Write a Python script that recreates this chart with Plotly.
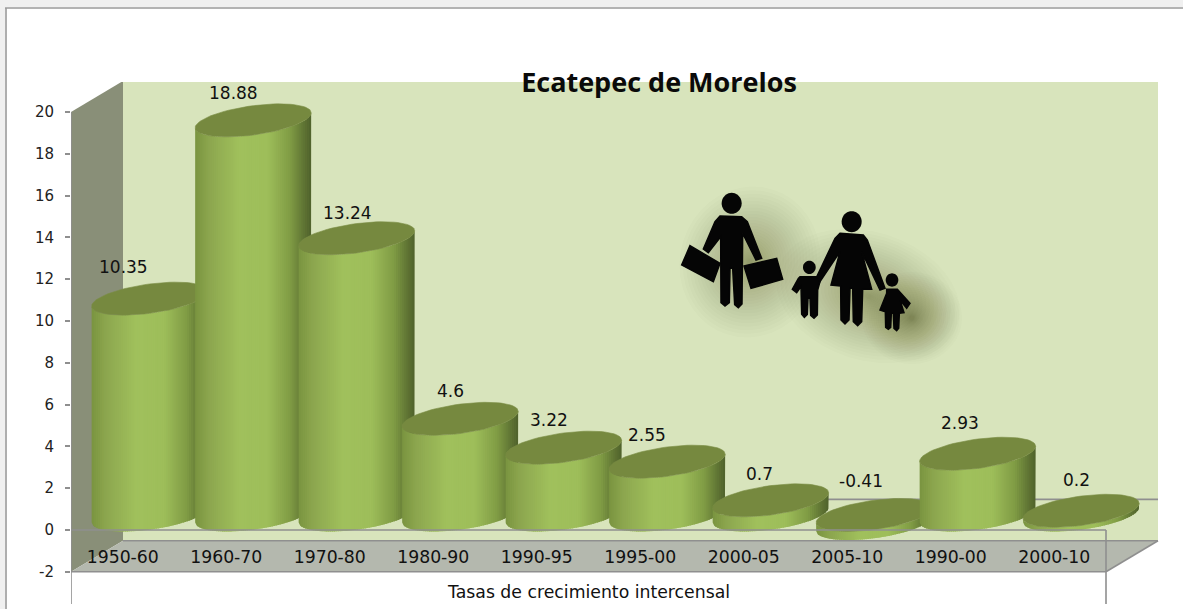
import math
import plotly.graph_objects as go

categories = ["1950-60", "1960-70", "1970-80", "1980-90", "1990-95",
              "1995-00", "2000-05", "2005-10", "1990-00", "2000-10"]
rates = [10.35, 18.88, 13.24, 4.6, 3.22, 2.55, 0.7, -0.41, 2.93, 0.2]
y_ticks = [-2, 0, 2, 4, 6, 8, 10, 12, 14, 16, 18, 20]

title_text = "Ecatepec de Morelos"
x_title = "Tasas de crecimiento intercensal"

W, H = 1183, 609
L, R, T, B = 71, 1160, 82, 604
UX, UY = 103.5, 20.9          # pixels per category / per unit
X0 = -0.5
Y_TOP = (530 - T) / UY
Y_BOT = (530 - B) / UY
X_END = X0 + (R - L) / UX

# depth projection of the 3D box and cylinders (data units)
DX = 52 / UX
DY = 31 / UY
A = 58 / UX
S = 7.5 / UY
BB = 14.7 / UY
CX = 0.26
CY = 0.72

label_dx = [-26, -20, -9, -10, -15, -20, -11, -13, -18, -5]
label_dy = [32, 27, 25, 28, 28, 27, 26, 34, 31, 31]

WALL, SIDE, FLOOR = "#d8e4bc", "#898f78", "#b4b8ae"
LINE = "#8f8f8f"
FACE = "#76893f"
STOPS = [(0.0, (122, 148, 64)), (0.12, (140, 166, 78)), (0.38, (160, 192, 92)),
         (0.62, (158, 190, 90)), (0.82, (128, 156, 68)), (0.95, (92, 112, 50)),
         (1.0, (80, 98, 44))]


def shade(f):
    for (f0, c0), (f1, c1) in zip(STOPS, STOPS[1:]):
        if f <= f1:
            k = (f - f0) / (f1 - f0)
            return "rgb(%d,%d,%d)" % tuple(round(a + (b - a) * k) for a, b in zip(c0, c1))
    return "rgb(80,98,44)"


def rim(cx, cy, th):
    return cx + A * math.cos(th), cy + S * math.cos(th) + BB * math.sin(th)


fig = go.Figure()
NSTRIP = 56
for i, v in enumerate(rates):
    cx = i + CX
    top = max(v, 0) + CY
    bot = min(v, 0) + CY
    for k in range(NSTRIP):
        # front half of the rim, left to right, with a small overlap
        x1 = -1 + 2 * k / NSTRIP
        x2 = min(1, -1 + 2 * (k + 1.6) / NSTRIP)
        th1 = -math.acos(x1) if x1 > -1 else -math.pi
        th2 = -math.acos(x2)
        ths = [th1 + (th2 - th1) * j / 3 for j in range(4)]
        xs, ys = [], []
        for th in ths:
            p = rim(cx, top, th)
            xs.append(p[0]); ys.append(p[1])
        for th in reversed(ths):
            p = rim(cx, bot, th)
            xs.append(p[0]); ys.append(p[1])
        fig.add_trace(go.Scatter(x=xs, y=ys, mode="lines", fill="toself",
                                 fillcolor=shade((k + 0.5) / NSTRIP),
                                 line=dict(width=0), hoverinfo="skip", showlegend=False))
    pts = [rim(cx, top, 2 * math.pi * j / 72) for j in range(73)]
    fig.add_trace(go.Scatter(x=[p[0] for p in pts], y=[p[1] for p in pts], mode="lines",
                             fill="toself", fillcolor=FACE, line=dict(width=0.6, color="#7a8d44"),
                             name=categories[i], hoverinfo="skip", showlegend=False))


def seg(x0, y0, x1, y1, layer):
    return dict(type="line", xref="x", yref="y", x0=x0, y0=y0, x1=x1, y1=y1, layer=layer,
                line=dict(color=LINE, width=1.6))


def poly(points, color, layer="below"):
    d = "M " + " L ".join(f"{x:.4f},{y:.4f}" for x, y in points) + " Z"
    return dict(type="path", xref="x", yref="y", path=d, fillcolor=color, layer=layer,
                line=dict(width=0))


XE = X0 + 10
shapes = [
    poly([(X0 + DX, -2 + DY), (XE + DX, -2 + DY), (XE + DX, 20 + DY), (X0 + DX, 20 + DY)], WALL),
    poly([(X0, -2), (X0 + DX, -2 + DY), (X0 + DX, 20 + DY), (X0, 20)], SIDE),
    poly([(X0, -2), (XE, -2), (XE + DX, -2 + DY), (X0 + DX, -2 + DY)], FLOOR),
    seg(X0 + DX, DY - 0.02, XE + DX, DY - 0.02, "below"),
    seg(X0 + DX, -2 + DY, XE + DX, -2 + DY, "below"),
    seg(X0, 20, X0, Y_BOT, "above"),
    seg(X0, 0, XE, 0, "above"),
    seg(X0, -2, XE, -2, "above"),
    seg(XE, 0, XE, Y_BOT, "above"),
    seg(XE, -2, XE + DX, -2 + DY, "below"),
]


# ---- decorative pictogram (pixel geometry converted to plot coordinates) ----
def to_data(px, py):
    return X0 + (px - L) / UX, (530 - py) / UY


def to_paper(px, py):
    return (px - L) / (R - L), (B - py) / (B - T)


def zoomed(zx, zy):
    return 670 + zx / 3, 180 + zy / 3


def path_shape(points, color, opacity=1.0, layer="above", edge=0):
    pp = [to_data(*p) for p in points]
    d = "M " + " L ".join(f"{x:.5f},{y:.5f}" for x, y in pp) + " Z"
    return dict(type="path", xref="x", yref="y", path=d, fillcolor=color,
                opacity=opacity, layer=layer, line=dict(width=edge, color=color))


def ellipse(cx, cy, rx, ry, ang=0.0, n=40):
    c, s = math.cos(ang), math.sin(ang)
    out = []
    for j in range(n):
        t = 2 * math.pi * j / n
        ex, ey = rx * math.cos(t), ry * math.sin(t)
        out.append((cx + ex * c - ey * s, cy + ex * s + ey * c))
    return out


shadow_blobs = [(750, 262, 68, 74, 0.3), (868, 296, 92, 62, 0.3), (912, 318, 48, 44, 0.0)]
NSHADOW = 30
for cx_, cy_, rx_, ry_, ang_ in shadow_blobs:
    for q in range(NSHADOW):
        f = (1.0 - q / NSHADOW) ** 1.5
        shapes.append(path_shape(ellipse(cx_, cy_, rx_ * f + 2, ry_ * f + 2, ang_),
                                 "#20281a", 0.016, "below"))

silhouettes = [
    # man
    [(150, 108), (215, 110), (232, 125), (275, 235), (258, 240), (218, 160), (217, 265), (216, 372),
     (205, 383), (194, 374), (188, 265), (180, 265), (178, 368), (165, 378), (153, 368), (152, 170),
     (115, 218), (100, 207), (135, 125)],
    [(60, 197), (150, 250), (130, 305), (35, 255)],
    [(222, 258), (320, 235), (338, 298), (243, 325)],
    # woman
    [(510, 160), (580, 165), (592, 180), (645, 325), (630, 330), (575, 215), (605, 328), (578, 328),
     (575, 425), (563, 437), (550, 425), (548, 325), (540, 325), (537, 420), (525, 432), (513, 420),
     (512, 318), (483, 315), (510, 215), (450, 305), (438, 295), (495, 175)],
    # boy
    [(390, 290), (440, 290), (450, 305), (443, 330), (442, 405), (432, 415), (422, 406), (420, 355),
     (414, 355), (412, 403), (403, 412), (395, 403), (393, 320), (380, 338), (367, 328), (385, 295)],
    # girl
    [(650, 328), (682, 328), (720, 370), (710, 385), (690, 360), (702, 398), (688, 400), (686, 445),
     (680, 452), (672, 445), (670, 400), (664, 400), (662, 442), (655, 448), (647, 442), (646, 395),
     (630, 390), (650, 340)],
]
for sil in silhouettes:
    shapes.append(path_shape([zoomed(*p) for p in sil], "#050505", edge=1.5))
for hx, hy, hr in [(185, 70, 30), (545, 125, 30), (418, 262, 19), (666, 300, 19)]:
    shapes.append(path_shape(ellipse(*zoomed(hx, hy), hr / 3, hr / 3 * 1.05), "#050505"))

# window chrome round the chart: pale band with a grey rule at the top and left
for (a, b, c, d) in [(0, 0, W, 7), (0, 0, 5, H)]:
    shapes.append(dict(type="rect", xref="paper", yref="paper",
                       x0=to_paper(a, 0)[0], x1=to_paper(c, 0)[0],
                       y0=to_paper(0, d)[1], y1=to_paper(0, b)[1],
                       fillcolor="#f0f0f0", line=dict(width=0), layer="above"))
for (a, b, c, d) in [(5, 8, W, 8), (6, 8, 6, H)]:
    shapes.append(dict(type="line", xref="paper", yref="paper",
                       x0=to_paper(a, 0)[0], x1=to_paper(c, 0)[0],
                       y0=to_paper(0, b)[1], y1=to_paper(0, d)[1],
                       line=dict(color="#9a9a9a", width=1.6), layer="above"))

annotations = [
    dict(x=i + CX, y=max(v, 0) + CY, xref="x", yref="y", text=str(v), showarrow=False,
         xshift=label_dx[i], yshift=label_dy[i], font=dict(family="DejaVu Sans", size=17, color="#111111"))
    for i, v in enumerate(rates)
]
annotations.append(dict(x=to_paper(588, 0)[0], y=to_paper(0, 592)[1], xref="paper", yref="paper",
                        xanchor="center", yanchor="middle",
                        text=x_title, showarrow=False,
                        font=dict(family="DejaVu Sans", size=17.3, color="#111111")))

fig.update_layout(
    width=W, height=H, autosize=False,
    margin=dict(l=L, r=W - R, t=T, b=H - B, pad=0),
    paper_bgcolor="white", plot_bgcolor="white",
    showlegend=False, shapes=shapes, annotations=annotations,
    title=dict(text="<b>" + title_text + "</b>", x=659 / W, y=1 - 83 / H, xanchor="center", yanchor="middle",
               font=dict(family="Open Sans", size=27, color="#0a0a0a")),
    xaxis=dict(range=[X0, X_END], tickmode="array", tickvals=list(range(10)), ticktext=categories,
               showgrid=False, zeroline=False, showline=False, ticks="",
               anchor="free", position=(B - 545) / (B - T), automargin=False,
               tickfont=dict(family="DejaVu Sans", size=17.3, color="#111111")),
    yaxis=dict(range=[Y_BOT, Y_TOP], tickmode="array", tickvals=y_ticks,
               ticktext=[str(t) for t in y_ticks],
               showgrid=False, zeroline=False, showline=False, automargin=False,
               ticks="outside", ticklen=5, tickwidth=1.5, tickcolor=LINE, ticklabelstandoff=8,
               tickfont=dict(family="DejaVu Sans", size=15, color="#222222")),
)

fig.write_html("out.html", config={"displayModeBar": False},
               post_script="document.body.style.margin='0';document.body.style.overflow='hidden';")
